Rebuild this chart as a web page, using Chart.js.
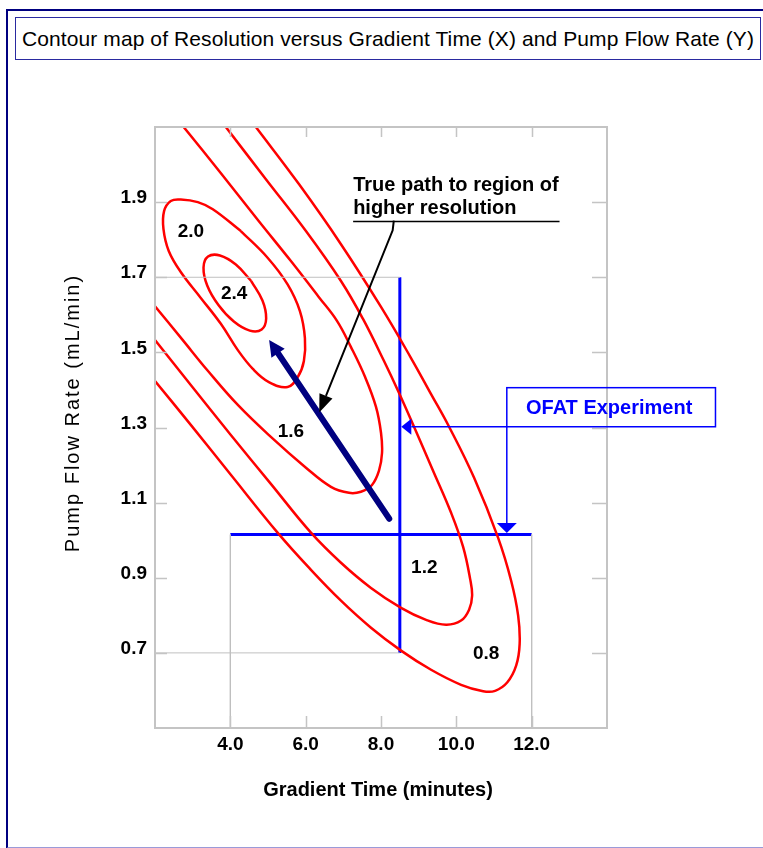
<!DOCTYPE html>
<html><head><meta charset="utf-8">
<script src="https://cdn.jsdelivr.net/npm/chart.js@4/dist/chart.umd.min.js"></script>
<style>
html,body{margin:0;padding:0;background:#fff;}
#wrap{position:relative;width:763px;height:848px;overflow:hidden;background:#fff;}
#frame{position:absolute;left:6px;top:9px;width:770px;height:836px;border-left:2px solid #000080;border-top:2px solid #000080;border-bottom:2px solid #9a9ad8;}
#title{position:absolute;left:15px;top:17px;width:744px;height:41px;border:1px solid #2a2aa0;font:21px "Liberation Sans",Arial,sans-serif;letter-spacing:0.1px;line-height:42px;text-align:center;white-space:nowrap;color:#000;}
canvas{position:absolute;left:0;top:0;}
</style></head><body>
<div id="wrap">
<div id="frame"></div>
<div id="title">Contour map of Resolution versus Gradient Time (X) and Pump Flow Rate (Y)</div>
<canvas id="c" width="763" height="848"></canvas>
</div>
<script>
// ---- data ----
const xTicks = [4, 6, 8, 10, 12];
const yTicks = [0.7, 0.9, 1.1, 1.3, 1.5, 1.7, 1.9];
const xRange = [2, 14];
const yRange = [0.5, 2.1];

const contour24 = [[4.555,1.690],[4.146,1.734],[3.724,1.758],[3.407,1.755],[3.288,1.726],[3.386,1.678],[3.684,1.626],[4.093,1.582],[4.516,1.558],[4.832,1.561],[4.951,1.590],[4.853,1.638],[4.555,1.690]];
const contour20 = [[4.279,1.823],[4.989,1.752],[5.520,1.681],[5.847,1.610],[5.980,1.538],[5.953,1.477],[5.794,1.435],[5.520,1.408],[5.023,1.421],[4.598,1.456],[4.199,1.506],[3.748,1.576],[3.216,1.645],[2.684,1.714],[2.365,1.770],[2.225,1.828],[2.241,1.876],[2.419,1.903],[2.684,1.907],[3.136,1.900],[3.535,1.881],[4.279,1.823]];
const contour16 = [[2.76,2.10],[3.75,1.977],[4.758,1.849],[5.608,1.743],[6.352,1.647],[6.831,1.584],[7.203,1.514],[7.575,1.435],[7.867,1.355],[8.000,1.286],[8.027,1.232],[7.947,1.185],[7.761,1.147],[7.468,1.129],[7.150,1.126],[6.671,1.142],[6.007,1.193],[5.076,1.275],[4.199,1.360],[3.402,1.451],[2.711,1.536],[2.00,1.623]];
const contour12 = [[3.88,2.10],[4.944,1.961],[6.007,1.823],[6.937,1.690],[7.522,1.589],[8.080,1.477],[8.479,1.392],[8.877,1.302],[9.382,1.185],[9.861,1.073],[10.180,0.982],[10.366,0.897],[10.419,0.852],[10.339,0.815],[10.126,0.786],[9.727,0.775],[9.196,0.788],[8.532,0.820],[7.734,0.873],[6.937,0.940],[6.140,1.020],[5.076,1.150],[4.013,1.280],[2.950,1.413],[2.00,1.533]];
const contour08 = [[4.678,2.10],[5.821,1.948],[6.937,1.788],[8.000,1.621],[8.797,1.485],[9.329,1.389],[9.807,1.302],[10.472,1.166],[11.110,1.006],[11.455,0.892],[11.641,0.799],[11.681,0.724],[11.588,0.666],[11.349,0.621],[11.030,0.599],[10.711,0.598],[10.126,0.615],[9.329,0.655],[8.532,0.706],[7.734,0.767],[6.937,0.839],[6.140,0.921],[5.254,1.020],[4.013,1.174],[2.950,1.307],[2.00,1.424]];
const contourLevels = ['2.4', '2.0', '1.6', '1.2', '0.8'];
const contourLabelAt = [[4.10,1.655],[2.955,1.822],[5.61,1.288],[9.15,0.927],[10.79,0.697]];

const ofatVertical = [[8.5,0.7],[8.5,1.7]];
const ofatHorizontal = [[4,1.015],[12,1.015]];
const dropLines = [
  [[2,1.7],[8.5,1.7]],
  [[2,0.7],[8.5,0.7]],
  [[4,1.015],[4,0.5]],
  [[12,1.015],[12,0.5]]
];
const truePath = [[8.22,1.057],[5.03,1.533]];
const pointerPath = [[8.34,1.851],[8.31,1.825],[6.36,1.34]];
const noteLines = ['True path to region of', 'higher resolution'];
const noteAnchor = [7.26, 1.943, 1.884, 1.851, 12.74];
const ofatText = 'OFAT Experiment';
const ofatBox = [11.34, 16.88, 1.406, 1.302];

// ---- chart ----
const FONT = '"Liberation Sans", Arial, sans-serif';
const pts = a => a.map(p => ({x: p[0], y: p[1]}));
const redLine = (label, d) => ({label, data: pts(d), showLine: true, borderColor: '#ff0000', borderWidth: 2.5, pointRadius: 0, tension: 0.4, fill: false});

const datasets = [];
dropLines.forEach((d, i) => datasets.push({label: 'drop' + i, data: pts(d), showLine: true, borderColor: '#c0c0c0', borderWidth: 1, pointRadius: 0, tension: 0}));
datasets.push(redLine('2.4', contour24));
datasets.push(redLine('2.0', contour20));
datasets.push(redLine('1.6', contour16));
datasets.push(redLine('1.2', contour12));
datasets.push(redLine('0.8', contour08));
datasets.push({label: 'ofatV', data: pts(ofatVertical), showLine: true, borderColor: '#0000ff', borderWidth: 3, pointRadius: 0, tension: 0});
datasets.push({label: 'ofatH', data: pts(ofatHorizontal), showLine: true, borderColor: '#0000ff', borderWidth: 3, pointRadius: 0, tension: 0});

function arrowHead(ctx, x0, y0, x1, y1, len, hw, color) {
  const a = Math.atan2(y1 - y0, x1 - x0);
  const bx = x1 - len * Math.cos(a), by = y1 - len * Math.sin(a);
  const nx = -Math.sin(a), ny = Math.cos(a);
  ctx.fillStyle = color;
  ctx.beginPath();
  ctx.moveTo(x1, y1);
  ctx.lineTo(bx + nx * hw, by + ny * hw);
  ctx.lineTo(bx - nx * hw, by - ny * hw);
  ctx.closePath();
  ctx.fill();
  return [bx, by];
}

const decor = {
  id: 'decor',
  afterDatasetsDraw(chart) {
    const ctx = chart.ctx, ca = chart.chartArea;
    const X = v => chart.scales.x.getPixelForValue(v);
    const Y = v => chart.scales.y.getPixelForValue(v);
    ctx.save();
    // frame
    ctx.strokeStyle = '#c4c4c4';
    ctx.lineWidth = 2;
    ctx.strokeRect(ca.left, ca.top, ca.right - ca.left, ca.bottom - ca.top);
    // ticks inside
    ctx.beginPath();
    xTicks.forEach(t => {
      const x = Math.round(X(t)) + 0.5;
      ctx.moveTo(x, ca.bottom); ctx.lineTo(x, ca.bottom - 12);
      ctx.moveTo(x, ca.top); ctx.lineTo(x, ca.top + 10);
    });
    yTicks.forEach(t => {
      const y = Math.round(Y(t)) + 0.5;
      ctx.moveTo(ca.left, y); ctx.lineTo(ca.left + 12, y);
      ctx.moveTo(ca.right, y); ctx.lineTo(ca.right - 15, y);
    });
    ctx.lineWidth = 1.5;
    ctx.stroke();

    // contour labels
    ctx.fillStyle = '#000';
    ctx.font = 'bold 19px ' + FONT;
    ctx.textAlign = 'center';
    ctx.textBaseline = 'middle';
    contourLevels.forEach((t, i) => ctx.fillText(t, X(contourLabelAt[i][0]), Y(contourLabelAt[i][1])));

    // true path arrow (navy)
    const tx0 = X(truePath[0][0]), ty0 = Y(truePath[0][1]);
    const tx1 = X(truePath[1][0]), ty1 = Y(truePath[1][1]);
    const base = arrowHead(ctx, tx0, ty0, tx1, ty1, 16, 8, '#000080');
    ctx.strokeStyle = '#000080';
    ctx.lineWidth = 6;
    ctx.lineCap = 'round';
    ctx.beginPath(); ctx.moveTo(tx0, ty0); ctx.lineTo(base[0], base[1]); ctx.stroke();
    ctx.lineCap = 'butt';

    // pointer arrow (black)
    const pp = pointerPath.map(p => [X(p[0]), Y(p[1])]);
    const n = pp.length;
    const b2 = arrowHead(ctx, pp[n-2][0], pp[n-2][1], pp[n-1][0], pp[n-1][1], 18, 7, '#000');
    ctx.strokeStyle = '#000';
    ctx.lineWidth = 2;
    ctx.beginPath(); ctx.moveTo(pp[0][0], pp[0][1]);
    for (let i = 1; i < n - 1; i++) ctx.lineTo(pp[i][0], pp[i][1]);
    ctx.lineTo(b2[0], b2[1]); ctx.stroke();

    // note text + underline
    ctx.font = 'bold 20px ' + FONT;
    ctx.textAlign = 'left';
    ctx.fillStyle = '#000';
    ctx.fillText(noteLines[0], X(noteAnchor[0]), Y(noteAnchor[1]));
    ctx.fillText(noteLines[1], X(noteAnchor[0]), Y(noteAnchor[2]));
    ctx.lineWidth = 1.5;
    ctx.beginPath();
    ctx.moveTo(X(noteAnchor[0]), Math.round(Y(noteAnchor[3])) + 0.5);
    ctx.lineTo(X(noteAnchor[4]), Math.round(Y(noteAnchor[3])) + 0.5);
    ctx.stroke();

    // OFAT box
    const bl = X(ofatBox[0]), br = X(ofatBox[1]), bt = Y(ofatBox[2]), bb = Y(ofatBox[3]);
    ctx.strokeStyle = '#0000ff';
    ctx.lineWidth = 1.5;
    ctx.strokeRect(bl, bt, br - bl, bb - bt);
    ctx.fillStyle = '#0000ff';
    ctx.textAlign = 'center';
    ctx.fillText(ofatText, (bl + br) / 2 - 2, (bt + bb) / 2 + 1);
    const vx = X(ofatVertical[0][0]) + 1.5;
    ctx.beginPath(); ctx.moveTo(bl, bb); ctx.lineTo(vx + 10, bb); ctx.stroke();
    arrowHead(ctx, bl, bb, vx, bb, 10, 8, '#0000ff');
    const hy = Y(ofatHorizontal[0][1]) - 1.5;
    ctx.beginPath(); ctx.moveTo(bl, bb); ctx.lineTo(bl, hy - 10); ctx.stroke();
    arrowHead(ctx, bl, bb, bl, hy, 10, 10, '#0000ff');

    // axis titles
    ctx.fillStyle = '#000';
    ctx.font = 'bold 20px ' + FONT;
    ctx.textAlign = 'center';
    ctx.fillText('Gradient Time (minutes)', 378, 790);
    ctx.translate(73, 413);
    ctx.rotate(-Math.PI / 2);
    ctx.font = '20px ' + FONT;
    if ('letterSpacing' in ctx) ctx.letterSpacing = '2px';
    ctx.fillText('Pump Flow Rate (mL/min)', 0, 0);
    ctx.restore();
  }
};

new Chart(document.getElementById('c'), {
  type: 'scatter',
  data: {datasets},
  options: {
    responsive: false,
    animation: false,
    devicePixelRatio: 1,
    layout: {padding: {left: 0, top: 127, right: 156, bottom: 0}},
    plugins: {legend: {display: false}, tooltip: {enabled: false}, title: {display: false}},
    scales: {
      x: {
        type: 'linear', min: xRange[0], max: xRange[1],
        grid: {display: false, drawTicks: false},
        border: {display: false},
        afterBuildTicks: s => { s.ticks = xTicks.map(v => ({value: v})); },
        afterFit: s => { s.height = 120; },
        ticks: {color: '#000', font: {family: FONT, size: 19, weight: 'bold'}, padding: 5, maxRotation: 0, autoSkip: false, callback: v => Number(v).toFixed(1)}
      },
      y: {
        type: 'linear', min: yRange[0], max: yRange[1],
        grid: {display: false, drawTicks: false},
        border: {display: false},
        afterBuildTicks: s => { s.ticks = yTicks.map(v => ({value: v})); },
        afterFit: s => { s.width = 155; },
        ticks: {color: '#000', font: {family: FONT, size: 19, weight: 'bold'}, padding: 8, labelOffset: -4, autoSkip: false, callback: v => Number(v).toFixed(1)}
      }
    }
  },
  plugins: [decor]
});
</script>
</body></html>
